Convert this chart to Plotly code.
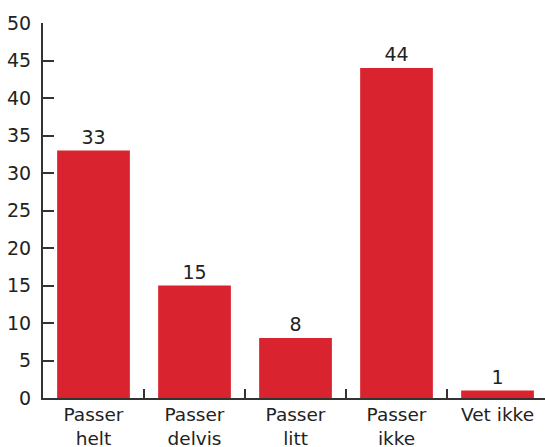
import plotly.graph_objects as go

categories = ["Passer<br>helt", "Passer<br>delvis", "Passer<br>litt", "Passer<br>ikke", "Vet ikke"]
values = [33, 15, 8, 44, 1]
y_ticks = [0, 5, 10, 15, 20, 25, 30, 35, 40, 45, 50]

font = dict(family="DejaVu Sans, Verdana, sans-serif", size=19, color="#222222")
xfont = dict(family="DejaVu Sans, Verdana, sans-serif", size=18.5, color="#222222")

fig = go.Figure(go.Bar(
    x=categories, y=values,
    marker=dict(color="#d9232f", line=dict(width=0)),
    width=0.72,
    text=[str(v) for v in values],
    textposition="outside",
    textfont=font,
    cliponaxis=False,
    hoverinfo="skip",
))

fig.update_layout(
    width=545, height=447,
    margin=dict(l=43, r=0, t=23, b=49),
    paper_bgcolor="white", plot_bgcolor="white",
    font=font,
    showlegend=False,
    bargap=0.28,
)
fig.update_xaxes(
    range=[-0.5, 4.47], automargin=False,
    showline=True, linecolor="#333333", linewidth=2,
    ticks="inside", tickson="boundaries", ticklen=9, tickcolor="#333333", tickwidth=1.5,
    showgrid=False, tickfont=xfont, ticklabelstandoff=-1,
)
fig.update_yaxes(
    range=[0, 50], tickvals=y_ticks, automargin=False,
    showline=True, linecolor="#333333", linewidth=2,
    ticks="inside", ticklen=11, tickcolor="#333333", tickwidth=2,
    showgrid=False, zeroline=False, tickfont=font,
    ticklabelstandoff=6,
)

fig.write_html(
    "out.html",
    config={"displayModeBar": False},
    post_script="document.body.style.margin='0';document.body.style.overflow='hidden';",
)
